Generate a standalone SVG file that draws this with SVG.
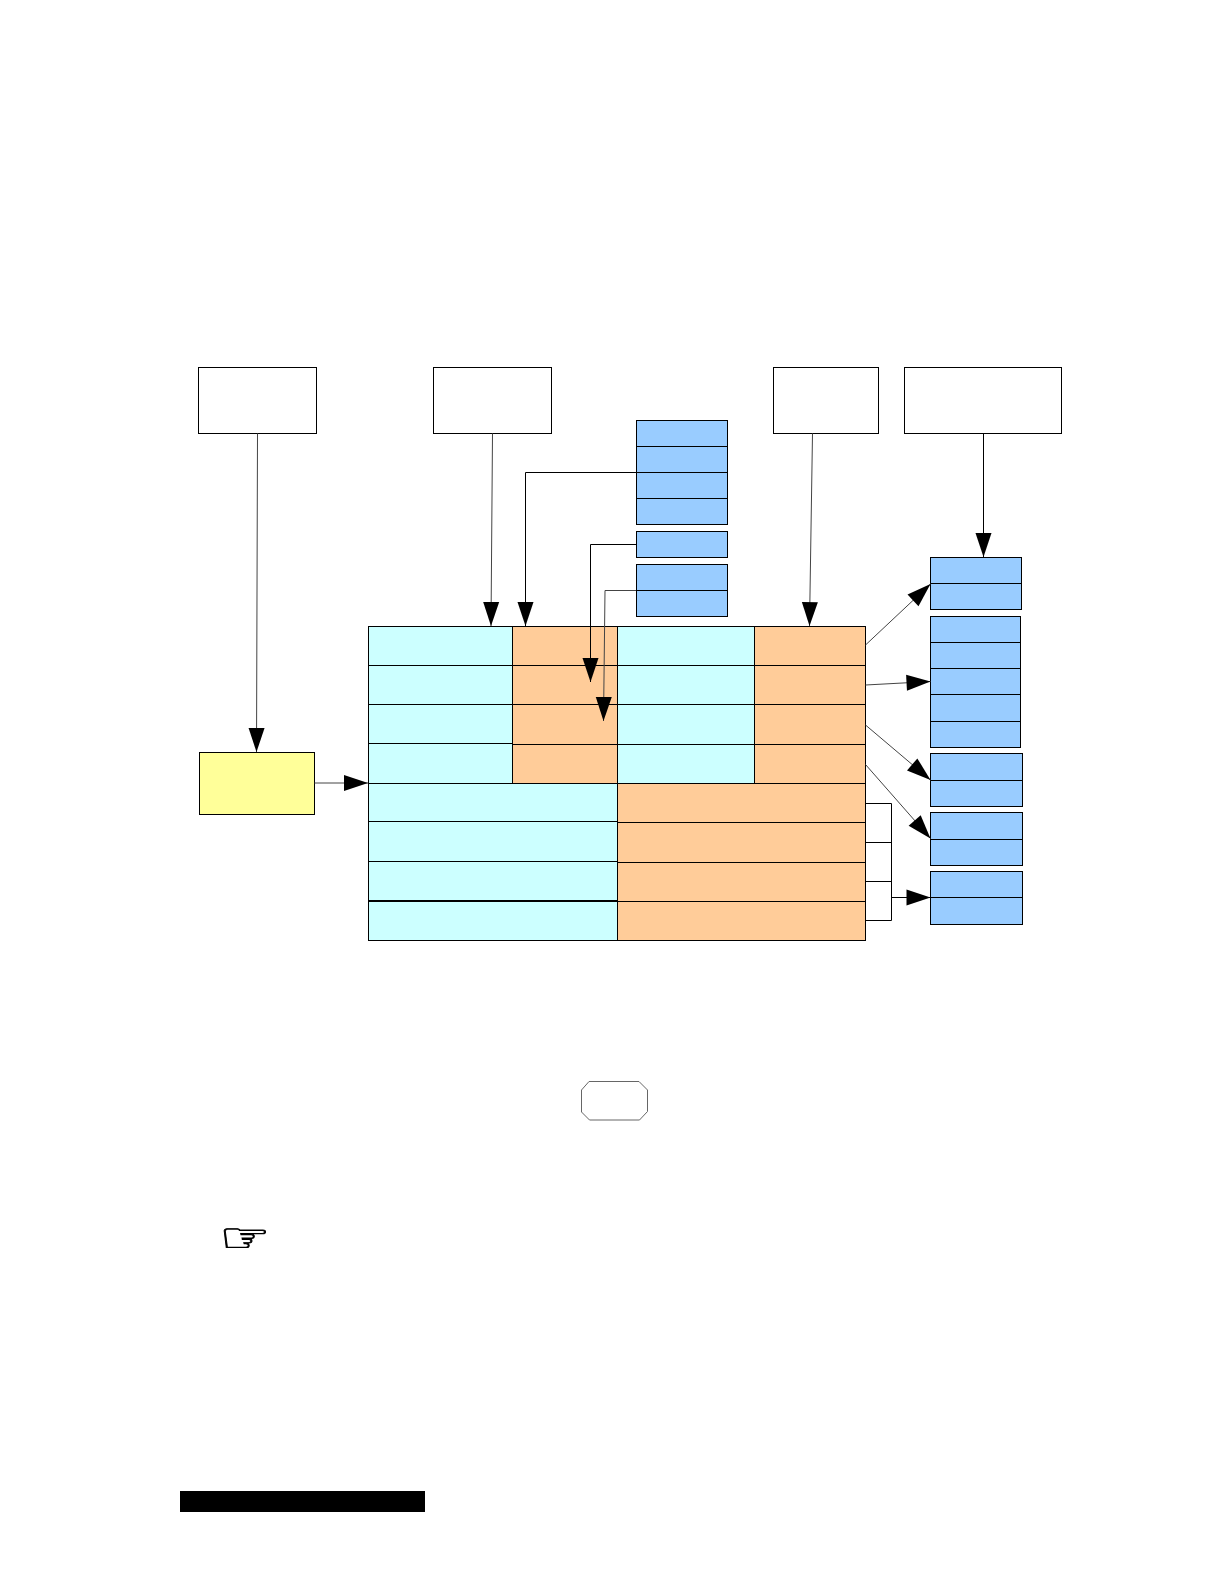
<svg xmlns="http://www.w3.org/2000/svg" width="1224" height="1584" viewBox="0 0 1224 1584">
<style>
rect,polygon.n{stroke:#000;stroke-width:1}
.w{fill:#fff}.c{fill:#CCFFFF}.o{fill:#FFCC99}.b{fill:#99CCFF}.y{fill:#FFFF99}
.k{fill:none;stroke:#000;stroke-width:1}
.g{fill:none;stroke:#444;stroke-width:1}
.a{marker-end:url(#arrow)}
</style>
<defs>
<marker id="arrow" markerUnits="userSpaceOnUse" markerWidth="26" markerHeight="18" refX="24" refY="8" orient="auto" overflow="visible"><path d="M0,0L24,8L0,16z" fill="#000"/></marker>
</defs>
<rect width="1224" height="1584" style="fill:#fff;stroke:none"/>
<g id="box-1"><rect class="w" x="198.5" y="367.5" width="118" height="66"/></g>
<g id="box-2"><rect class="w" x="433.5" y="367.5" width="118" height="66"/></g>
<g id="box-3"><rect class="w" x="773.5" y="367.5" width="105" height="66"/></g>
<g id="box-4"><rect class="w" x="904.5" y="367.5" width="157" height="66"/></g>
<g id="stack-top-1">
<rect class="b" x="636.5" y="420.5" width="91" height="26"/><rect class="b" x="636.5" y="446.5" width="91" height="26"/><rect class="b" x="636.5" y="472.5" width="91" height="26"/><rect class="b" x="636.5" y="498.5" width="91" height="26"/>
</g>
<g id="stack-top-2"><rect class="b" x="636.5" y="531.5" width="91" height="26"/></g>
<g id="stack-top-3"><rect class="b" x="636.5" y="564.5" width="91" height="26"/><rect class="b" x="636.5" y="590.5" width="91" height="26"/></g>
<g id="stack-right-1"><rect class="b" x="930.5" y="557.5" width="91" height="26"/><rect class="b" x="930.5" y="583.5" width="91" height="26"/></g>
<g id="stack-right-2">
<rect class="b" x="930.5" y="616.5" width="90" height="26"/><rect class="b" x="930.5" y="642.5" width="90" height="26"/><rect class="b" x="930.5" y="668.5" width="90" height="26"/><rect class="b" x="930.5" y="694.5" width="90" height="27"/><rect class="b" x="930.5" y="721.5" width="90" height="26"/>
</g>
<g id="stack-right-3"><rect class="b" x="930.5" y="753.5" width="92" height="27"/><rect class="b" x="930.5" y="780.5" width="92" height="26"/></g>
<g id="stack-right-4"><rect class="b" x="930.5" y="812.5" width="92" height="27"/><rect class="b" x="930.5" y="839.5" width="92" height="26"/></g>
<g id="stack-right-5"><rect class="b" x="930.5" y="871.5" width="92" height="26"/><rect class="b" x="930.5" y="897.5" width="92" height="27"/></g>
<g id="source"><rect class="y" x="199.5" y="752.5" width="115" height="62"/></g>
<g id="table">
<rect class="c" x="368.5" y="626.5" width="144" height="39"/><rect class="o" x="512.5" y="626.5" width="105" height="39"/><rect class="c" x="617.5" y="626.5" width="137" height="39"/><rect class="o" x="754.5" y="626.5" width="111" height="39"/>
<rect class="c" x="368.5" y="665.5" width="144" height="39"/><rect class="o" x="512.5" y="665.5" width="105" height="39"/><rect class="c" x="617.5" y="665.5" width="137" height="39"/><rect class="o" x="754.5" y="665.5" width="111" height="39"/>
<rect class="c" x="368.5" y="704.5" width="144" height="39"/><rect class="o" x="512.5" y="704.5" width="105" height="40"/><rect class="c" x="617.5" y="704.5" width="137" height="40"/><rect class="o" x="754.5" y="704.5" width="111" height="40"/>
<rect class="c" x="368.5" y="743.5" width="144" height="40"/><rect class="o" x="512.5" y="744.5" width="105" height="39"/><rect class="c" x="617.5" y="744.5" width="137" height="39"/><rect class="o" x="754.5" y="744.5" width="111" height="39"/>
<rect class="c" x="368.5" y="783.5" width="249" height="38"/><rect class="o" x="617.5" y="783.5" width="248" height="39"/>
<rect class="c" x="368.5" y="821.5" width="249" height="40"/><rect class="o" x="617.5" y="822.5" width="248" height="40"/>
<rect class="c" x="368.5" y="861.5" width="249" height="39"/><rect class="o" x="617.5" y="862.5" width="248" height="39"/>
<rect class="c" x="368.5" y="901.5" width="249" height="39"/><rect class="o" x="617.5" y="901.5" width="248" height="39"/>
<path d="M368,901H617" fill="none" stroke="#000" stroke-width="2"/>
</g>
<g id="octagon"><polygon points="589,1081.5 639,1081.5 647.5,1090 647.5,1111.5 639.5,1120 589.5,1120 581.5,1112 581.5,1090" fill="#fff" stroke="#666" stroke-width="1"/></g>
<g id="pointer"><text transform="translate(219,1251.5) scale(1.1,0.8)" font-family="DejaVu Sans, sans-serif" font-size="52" fill="#000" stroke="#000" stroke-width="0.9">☞</text></g>
<rect id="black-bar" x="180" y="1491" width="245" height="21" style="fill:#000;stroke:none"/>
<g id="connectors">
<path class="g a" d="M257.5,433.5L256.5,752"/>
<path class="g a" d="M492.5,433.5L491,626"/>
<path class="k a" d="M636,472.5H525.5V626"/>
<path class="k a" d="M636,544.5H590.5V682"/>
<path class="g a" d="M636,590.5H605L603.5,721"/>
<path class="g a" d="M812.5,433.5L809.5,626"/>
<path class="k a" d="M983.5,433.5V557"/>
<path class="g a" d="M314.5,783H368"/>
<path class="g a" d="M865.5,645L930.5,584"/>
<path class="g a" d="M865.5,685L930.5,681.5"/>
<path class="g a" d="M865.5,725L930.5,780"/>
<path class="g a" d="M865.5,764.5L930.5,838.5"/>
<path class="k" d="M865.5,803.5H891.5V920.5H865.5M865.5,842.5H891.5M865.5,881.5H891.5"/>
<path class="k a" d="M891.5,897.5H930.5"/>
</g>
</svg>
